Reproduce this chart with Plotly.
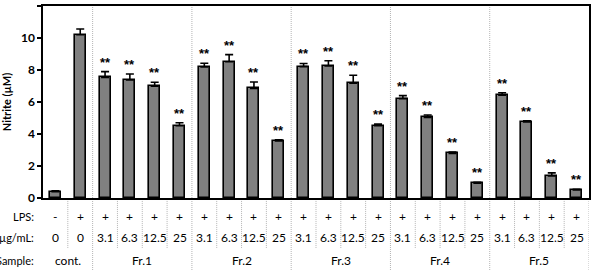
import plotly.graph_objects as go

# ---- data ----
lps = ["-", "+"] + ["+"] * 20
conc = ["0", "0"] + ["3.1", "6.3", "12.5", "25"] * 5
sample_groups = ["cont.", "Fr.1", "Fr.2", "Fr.3", "Fr.4", "Fr.5"]
group_sizes = [2, 4, 4, 4, 4, 4]
nitrite = [0.40, 10.20,
           7.54, 7.38, 6.98, 4.52,
           8.19, 8.52, 6.85, 3.56,
           8.21, 8.25, 7.17, 4.52,
           6.21, 5.04, 2.79, 0.92,
           6.42, 4.75, 1.38, 0.50]
err = [0.05, 0.36,
       0.36, 0.37, 0.25, 0.18,
       0.23, 0.44, 0.40, 0.08,
       0.20, 0.33, 0.50, 0.10,
       0.19, 0.15, 0.08, 0.06,
       0.16, 0.07, 0.19, 0.04]
signif = ["", ""] + ["**"] * 20
yticks = [0, 2, 4, 6, 8, 10, 12]

FONT = "Lato"
x = list(range(len(nitrite)))

fig = go.Figure()
fig.add_trace(go.Bar(
    x=x, y=nitrite, width=0.44,
    marker=dict(color="#808080", line=dict(color="black", width=1.6)),
    error_y=dict(type="data", symmetric=False, array=err,
                 arrayminus=[0] * len(err), color="black",
                 thickness=1.6, width=4),
    showlegend=False,
))

ann = []
for xi, v, e, s in zip(x, nitrite, err, signif):
    if s:
        ann.append(dict(x=xi, y=v + e, xref="x", yref="y", text=s,
                        showarrow=False, yanchor="bottom", yshift=0,
                        font=dict(family="Liberation Sans", size=13,
                                  color="black", weight="bold")))

row_y = [-0.095, -0.205, -0.325]
row_labels = ["LPS:", "\u00b5g/mL:", "Sample:"]
for ry, lab in zip(row_y, row_labels):
    ann.append(dict(x=-0.012, y=ry, xref="paper", yref="paper", text=lab,
                    showarrow=False, xanchor="right", yanchor="middle",
                    font=dict(family=FONT, size=11, color="black")))
for xi, l, c in zip(x, lps, conc):
    ann.append(dict(x=xi, y=row_y[0], xref="x", yref="paper", text=l,
                    showarrow=False, yanchor="middle",
                    font=dict(family=FONT, size=12, color="black")))
    ann.append(dict(x=xi, y=row_y[1], xref="x", yref="paper", text=c,
                    showarrow=False, yanchor="middle",
                    font=dict(family=FONT, size=12, color="black")))

shapes = []
start = 0
bounds = []
for g, n in zip(sample_groups, group_sizes):
    center = start + (n - 1) / 2
    ann.append(dict(x=center, y=row_y[2], xref="x", yref="paper", text=g,
                    showarrow=False, yanchor="middle",
                    font=dict(family=FONT, size=12, color="black")))
    start += n
    bounds.append(start - 0.5)

DOT = dict(color="#b4b4b4", width=1, dash="1px,1px")
group_b = set(bounds)
for i in range(len(x)):
    b = i + 0.5
    if b in group_b:
        y1 = 1 if b < len(x) - 0.5 else 0
        shapes.append(dict(type="line", xref="x", yref="paper", x0=b, x1=b,
                           y0=-0.375, y1=y1, layer="below", line=DOT))
    else:
        shapes.append(dict(type="line", xref="x", yref="paper", x0=b, x1=b,
                           y0=-0.26, y1=0, layer="below", line=DOT))

fig.update_layout(
    width=592, height=275,
    margin=dict(l=43, r=1, t=6, b=77),
    paper_bgcolor="white", plot_bgcolor="white",
    annotations=ann, shapes=shapes,
    xaxis=dict(range=[-0.5, len(x) - 0.5], showticklabels=False,
               ticks="", showgrid=False, zeroline=False,
               showline=True, linecolor="black", linewidth=1.5, mirror=True),
    yaxis=dict(range=[0, 12], tickvals=yticks, ticks="outside", ticklen=4,
               tickwidth=1.5, tickcolor="black", showgrid=False,
               zeroline=False, showline=True, linecolor="black",
               linewidth=1.5, mirror=True,
               tickfont=dict(family=FONT, size=12, color="black", weight="bold"),
               title=dict(text="Nitrite (\u00b5M)", standoff=7,
                          font=dict(family=FONT, size=11, color="black",
                                    weight="bold"))),
    bargap=0,
)

fig.write_html("out.html")
